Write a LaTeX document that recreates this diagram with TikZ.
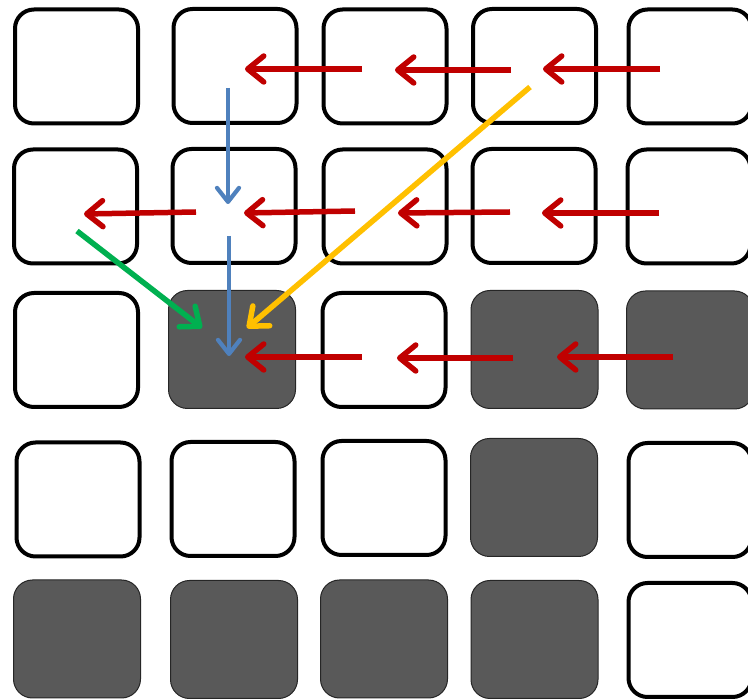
\documentclass[tikz,border=0pt]{standalone}
\usetikzlibrary{arrows.meta}
\definecolor{cred}{HTML}{C00000}
\definecolor{cblue}{HTML}{4F81BD}
\definecolor{cgreen}{HTML}{00B050}
\definecolor{cyellow}{HTML}{FFC000}
\definecolor{cdark}{HTML}{595959}
\tikzset{
  cell/.style={rectangle, rounded corners=19pt, minimum width=123pt, minimum height=114pt, inner sep=0pt, outer sep=0pt},
  freecell/.style={cell, draw=black, line width=4pt, fill=white},
  wallcell/.style={cell, draw=black!85, line width=1pt, fill=cdark, minimum width=127pt, minimum height=118pt},
  redarrow/.style={draw=cred, line width=5.5pt, -{Straight Barb[length=16pt, width=26pt, round]}},
  bluearrow/.style={draw=cblue, line width=4.2pt, -{Straight Barb[length=14pt, width=22pt, round]}},
  greenarrow/.style={draw=cgreen, line width=5.5pt, -{Straight Barb[length=16pt, width=26pt, round]}},
  yellowarrow/.style={draw=cyellow, line width=5.5pt, -{Straight Barb[length=16pt, width=26pt, round]}},
}
\begin{document}
\begin{tikzpicture}[x=1pt, y=-1pt]
\useasboundingbox (0,0) rectangle (748,700);
% row 1
\node[freecell] (c11) at (76.5,66.5) {};
\node[freecell] (c12) at (235,66) {};
\node[freecell] (c13) at (385,66.5) {};
\node[freecell] (c14) at (534.5,66) {};
\node[freecell] (c15) at (690,66.5) {};
% row 2
\node[freecell] (c21) at (75.5,206.5) {};
\node[freecell] (c22) at (234,206) {};
\node[freecell] (c23) at (385,206.5) {};
\node[freecell] (c24) at (534,206) {};
\node[freecell] (c25) at (689,206.5) {};
% row 3
\node[freecell] (c31) at (76.5,350) {};
\node[wallcell] (c32) at (232,349.5) {};
\node[freecell] (c33) at (384,350) {};
\node[wallcell] (c34) at (534.5,349.5) {};
\node[wallcell] (c35) at (690,350) {};
% row 4
\node[freecell] (c41) at (78,499.5) {};
\node[freecell] (c42) at (233,499) {};
\node[freecell] (c43) at (384,498) {};
\node[wallcell] (c44) at (534,497.5) {};
\node[freecell] (c45) at (690,500) {};
% row 5
\node[wallcell] (c51) at (77,639) {};
\node[wallcell] (c52) at (234,639.5) {};
\node[wallcell] (c53) at (384,639) {};
\node[wallcell] (c54) at (534.5,639.5) {};
\node[freecell] (c55) at (690,640) {};
% arrow end points
\coordinate (a1s) at (362,69);  \coordinate (a1e) at (245,69);
\coordinate (a2s) at (511,70);  \coordinate (a2e) at (395,70);
\coordinate (a3s) at (660,69);  \coordinate (a3e) at (543,69);
\coordinate (b1s) at (196,212); \coordinate (b1e) at (84,214);
\coordinate (b2s) at (355,211); \coordinate (b2e) at (244,213);
\coordinate (b3s) at (510,212); \coordinate (b3e) at (398,213);
\coordinate (b4s) at (659,213); \coordinate (b4e) at (542,213);
\coordinate (d1s) at (362,357); \coordinate (d1e) at (245,357);
\coordinate (d2s) at (513,358); \coordinate (d2e) at (397,358);
\coordinate (d3s) at (673,357); \coordinate (d3e) at (557,357);
\coordinate (u1s) at (228,88);  \coordinate (u1e) at (228,204);
\coordinate (u2s) at (229,236); \coordinate (u2e) at (229,356);
\coordinate (gs) at (77,231);   \coordinate (ge) at (202,328);
\coordinate (ys) at (530,87);   \coordinate (ye) at (247,328);
% red arrows
\draw[redarrow] (a1s) -- (a1e);
\draw[redarrow] (a2s) -- (a2e);
\draw[redarrow] (a3s) -- (a3e);
\draw[redarrow] (b1s) -- (b1e);
\draw[redarrow] (b2s) -- (b2e);
\draw[redarrow] (b3s) -- (b3e);
\draw[redarrow] (b4s) -- (b4e);
\draw[redarrow] (d1s) -- (d1e);
\draw[redarrow] (d2s) -- (d2e);
\draw[redarrow] (d3s) -- (d3e);
% blue arrows
\draw[bluearrow] (u1s) -- (u1e);
\draw[bluearrow] (u2s) -- (u2e);
% green and yellow
\draw[greenarrow] (gs) -- (ge);
\draw[yellowarrow] (ys) -- (ye);
\end{tikzpicture}
\end{document}
